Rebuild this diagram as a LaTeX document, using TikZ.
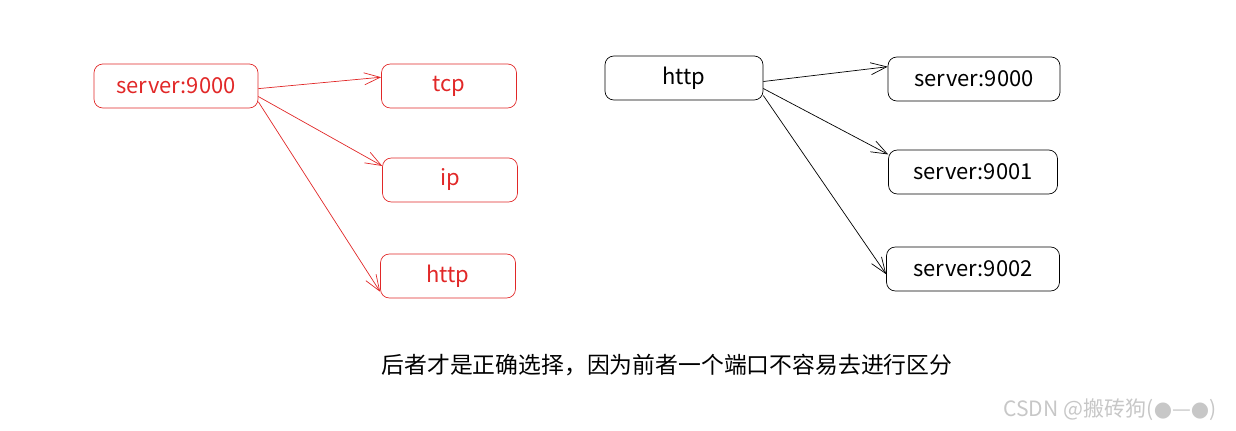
\documentclass[tikz,border=0pt]{standalone}
\usepackage{fontspec}
\setmainfont{Noto Sans CJK SC}
\newfontfamily\symfont{DejaVu Sans}
\usetikzlibrary{arrows.meta}
\definecolor{boxred}{RGB}{225,40,40}
\tikzset{
  box/.style={draw, rounded corners=5pt, minimum height=0.88cm, font=\fontsize{12.5}{14}\selectfont},
  link/.style={-{Straight Barb[length=3.2mm,width=2.4mm]}, thin}
}
\begin{document}
\begin{tikzpicture}[x=0.02cm,y=-0.02cm]
			\useasboundingbox (0,0) rectangle (1236,431);
			% left group
			\node[box, boxred, text=boxred, minimum width=3.28cm] (srv) at (176,86) {server:9000};
			\node[box, boxred, text=boxred, minimum width=2.7cm] (tcp) at (449,86) {tcp};
			\node[box, boxred, text=boxred, minimum width=2.7cm] (ip) at (450,180) {ip};
			\node[box, boxred, text=boxred, minimum width=2.7cm] (hr) at (448,276) {http};
			
			\draw[link, boxred] ([yshift=-1.5]srv.east) -- ([yshift=5]tcp.west);
			\draw[link, boxred] ([yshift=-6]srv.east) -- ([yshift=8]ip.west);
			\draw[link, boxred] ([yshift=-9]srv.east) -- ([yshift=-9]hr.west);
			
			% right group
			\node[box, minimum width=3.16cm] (hb) at (684,78) {http};
			\node[box, minimum width=3.44cm] (s0) at (974,79) {server:9000};
			\node[box, minimum width=3.38cm] (s1) at (973,172) {server:9001};
			\node[box, minimum width=3.46cm] (s2) at (973,269) {server:9002};
			
			\draw[link] ([yshift=-2]hb.east) -- ([yshift=7]s0.west);
			\draw[link] ([yshift=-6]hb.east) -- ([yshift=10]s1.west);
			\draw[link] ([yshift=-10]hb.east) -- ([yshift=-3]s2.west);
			
			% caption
			\node[font=\fontsize{13}{15}\selectfont] (cap) at (667,365) {后者才是正确选择，因为前者一个端口不容易去进行区分};
			\node[text=black!22, font=\fontsize{12}{14}\selectfont] (wm) at (1110,410) {CSDN @搬砖狗({\symfont ●}—{\symfont ●})};
\end{tikzpicture}
\end{document}
